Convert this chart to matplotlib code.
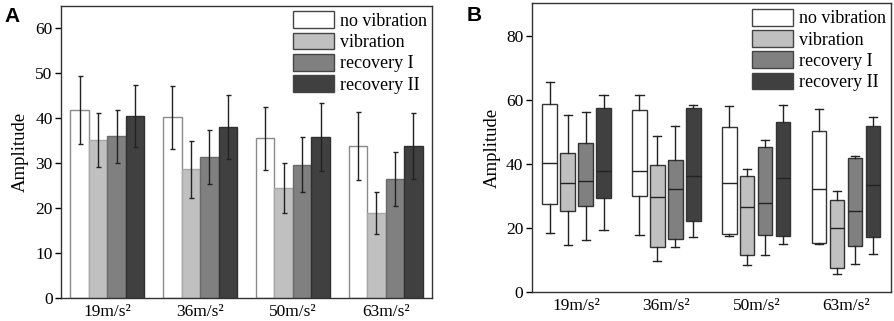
import numpy as np
import matplotlib
matplotlib.use('Agg')
import matplotlib.pyplot as plt
from matplotlib.patches import Patch

plt.rcParams['font.family'] = ['Liberation Serif', 'DejaVu Serif']
plt.rcParams['font.size'] = 12

groups = ['19m/s²', '36m/s²', '50m/s²', '63m/s²']
conditions = ['no vibration', 'vibration', 'recovery I', 'recovery II']
colors = ['#ffffff', '#c0c0c0', '#808080', '#404040']
edges = ['#8a8a8a', '#a8a8a8', '#6a6a6a', '#303030']

# --- panel A: mean amplitude and SD per condition ---
mean_nv = [41.8, 40.2, 35.5, 33.8]
mean_v = [35.1, 28.6, 24.5, 19.0]
mean_r1 = [36.0, 31.4, 29.7, 26.4]
mean_r2 = [40.5, 38.0, 35.8, 33.8]
sd_nv = [7.6, 7.0, 7.0, 7.5]
sd_v = [6.0, 6.3, 5.5, 4.7]
sd_r1 = [5.9, 6.1, 6.2, 6.0]
sd_r2 = [6.8, 7.1, 7.6, 7.4]

# --- panel B: box stats (whislo, q1, med, q3, whishi) ---
box_nv = [(18.4, 27.4, 40.3, 58.8, 65.6), (17.8, 29.9, 37.7, 56.8, 61.5),
          (17.5, 18.1, 33.9, 51.4, 57.9), (15.1, 15.3, 32.2, 50.1, 57.1)]
box_v = [(14.8, 25.4, 34.1, 43.5, 55.2), (9.7, 14.2, 29.7, 39.6, 48.6),
         (8.4, 11.5, 26.6, 36.1, 38.4), (5.8, 7.7, 20.1, 28.9, 31.7)]
box_r1 = [(16.3, 26.9, 34.8, 46.6, 56.3), (14.2, 16.5, 32.2, 41.3, 51.7),
          (11.5, 18.0, 27.9, 45.2, 47.4), (8.9, 14.5, 25.4, 41.9, 42.5)]
box_r2 = [(19.4, 29.3, 37.8, 57.5, 61.5), (17.3, 22.3, 36.3, 57.5, 58.2),
          (15.2, 17.6, 35.6, 53.2, 58.2), (11.9, 17.3, 33.4, 51.7, 54.6)]

means = [mean_nv, mean_v, mean_r1, mean_r2]
sds = [sd_nv, sd_v, sd_r1, sd_r2]
boxes = [box_nv, box_v, box_r1, box_r2]

fig = plt.figure(figsize=(8.94, 3.21), dpi=100)
axA = fig.add_axes([0.0682, 0.0717, 0.415, 0.9097])
axB = fig.add_axes([0.5947, 0.0894, 0.402, 0.900])

x = np.arange(1, 5)
w = 0.2
for i in range(4):
    axA.bar(x + (i - 1.5) * w, means[i], w, color=colors[i], edgecolor=edges[i],
            linewidth=1, zorder=2)
    axA.errorbar(x + (i - 1.5) * w, means[i], yerr=sds[i], fmt='none',
                 ecolor='#222222', elinewidth=1, capsize=1.8, capthick=1, zorder=3)

axA.set_xlim(0.5, 4.5)
axA.set_ylim(0, 65)
axA.set_yticks(range(0, 61, 10))
axA.set_ylabel('Amplitude', fontsize=13.5, labelpad=5)

bw = 0.16
for i in range(4):
    stats = []
    for s in boxes[i]:
        stats.append(dict(whislo=s[0], q1=s[1], med=s[2], q3=s[3], whishi=s[4], fliers=[]))
    axB.bxp(stats, positions=x + (i - 1.5) * 0.2, widths=bw, patch_artist=True,
            showfliers=False, capwidths=0.09,
            boxprops=dict(facecolor=colors[i], edgecolor='#333333', linewidth=1),
            medianprops=dict(color='#222222', linewidth=1),
            whiskerprops=dict(color='#222222', linewidth=1),
            capprops=dict(color='#222222', linewidth=1), manage_ticks=False)

axB.set_xlim(0.5, 4.5)
axB.set_ylim(0, 90)
axB.set_yticks(range(0, 81, 20))
axB.set_ylabel('Amplitude', fontsize=13.5, labelpad=4)

handles = [Patch(facecolor=colors[i], edgecolor='#444444', linewidth=1) for i in range(4)]
for ax in (axA, axB):
    ax.set_xticks(x)
    ax.set_xticklabels(groups)
    ax.tick_params(axis='x', length=0, pad=4, labelsize=12.5)
    ax.tick_params(axis='y', length=4, width=1, direction='out', labelsize=12.5, pad=2)
    for sp in ax.spines.values():
        sp.set_color('#333333')
        sp.set_linewidth(1)
    ax.legend(handles, conditions, loc='upper right', frameon=False, fontsize=13,
              handlelength=2.3, handleheight=1.05, labelspacing=0.15,
              handletextpad=0.3, borderaxespad=0.1, borderpad=0.2)

fig.text(0.005, 0.978, 'A', fontsize=15, fontweight='bold', family='Liberation Sans',
         va='top', ha='left')
fig.text(0.522, 0.982, 'B', fontsize=15, fontweight='bold', family='Liberation Sans',
         va='top', ha='left')

fig.savefig('out.png', dpi=100)
